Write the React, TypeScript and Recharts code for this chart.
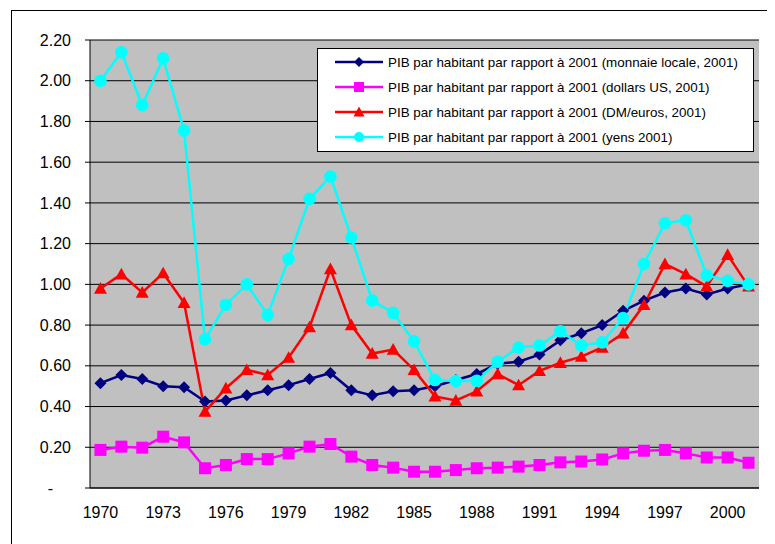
import React from "react";
import { LineChart, Line, XAxis, YAxis, CartesianGrid, Legend } from "recharts";

const FONT = "'Liberation Sans', Arial, sans-serif";

const years = [
  1970, 1971, 1972, 1973, 1974, 1975, 1976, 1977, 1978, 1979, 1980, 1981, 1982, 1983, 1984, 1985,
  1986, 1987, 1988, 1989, 1990, 1991, 1992, 1993, 1994, 1995, 1996, 1997, 1998, 1999, 2000, 2001,
];

const localCurrency = [
  0.515, 0.555, 0.535, 0.5, 0.495, 0.425, 0.43, 0.455, 0.48, 0.505, 0.535, 0.565, 0.48, 0.455, 0.475, 0.48,
  0.5, 0.53, 0.56, 0.61, 0.62, 0.655, 0.725, 0.76, 0.8, 0.87, 0.92, 0.96, 0.98, 0.95, 0.98, 1.0,
];

const usDollars = [
  0.187, 0.203, 0.198, 0.252, 0.224, 0.097, 0.113, 0.142, 0.142, 0.17, 0.203, 0.216, 0.154, 0.113, 0.1, 0.08,
  0.08, 0.088, 0.097, 0.1, 0.105, 0.113, 0.126, 0.13, 0.14, 0.17, 0.183, 0.187, 0.17, 0.15, 0.15, 0.124,
];

const dmEuros = [
  0.98, 1.05, 0.96, 1.055, 0.91, 0.375, 0.49, 0.58, 0.555, 0.64, 0.79, 1.075, 0.8, 0.66, 0.68, 0.58,
  0.45, 0.43, 0.475, 0.56, 0.505, 0.575, 0.615, 0.645, 0.69, 0.76, 0.9, 1.1, 1.05, 0.99, 1.145, 0.99,
];

const yens = [
  2.0, 2.14, 1.88, 2.11, 1.755, 0.73, 0.9, 1.0, 0.85, 1.125, 1.42, 1.53, 1.23, 0.92, 0.86, 0.72,
  0.53, 0.525, 0.527, 0.62, 0.69, 0.7, 0.77, 0.7, 0.715, 0.835, 1.1, 1.3, 1.315, 1.045, 1.017, 1.0,
];

const yTicks = [0, 0.2, 0.4, 0.6, 0.8, 1, 1.2, 1.4, 1.6, 1.8, 2, 2.2];
const yearLabels = [1970, 1973, 1976, 1979, 1982, 1985, 1988, 1991, 1994, 1997, 2000];
// tick marks sit between the years, like Excel's category axis
const yearEdges = [...years.map((y) => y - 0.5), years[years.length - 1] + 0.5];

const series = [
  { key: "local", name: "PIB par habitant par rapport à 2001 (monnaie locale, 2001)", color: "#000080", shape: "diamond" },
  { key: "usd", name: "PIB par habitant par rapport à 2001 (dollars US, 2001)", color: "#FF00FF", shape: "square" },
  { key: "dm", name: "PIB par habitant par rapport à 2001 (DM/euros, 2001)", color: "#FF0000", shape: "triangle" },
  { key: "yen", name: "PIB par habitant par rapport à 2001 (yens 2001)", color: "#00FFFF", shape: "circle" },
];

const data = years.map((year, i) => ({
  year,
  local: localCurrency[i],
  usd: usDollars[i],
  dm: dmEuros[i],
  yen: yens[i],
}));

function Marker({ shape, cx, cy, s, color }: { shape: string; cx: number; cy: number; s: number; color: string }) {
  if (shape === "diamond") {
    return <polygon points={`${cx},${cy - s} ${cx + s},${cy} ${cx},${cy + s} ${cx - s},${cy}`} fill={color} />;
  }
  if (shape === "square") {
    return <rect x={cx - s} y={cy - s} width={2 * s} height={2 * s} fill={color} />;
  }
  if (shape === "triangle") {
    return <polygon points={`${cx},${cy - s} ${cx + s},${cy + s * 0.8} ${cx - s},${cy + s * 0.8}`} fill={color} />;
  }
  return <circle cx={cx} cy={cy} r={s} fill={color} />;
}

const dotSize: Record<string, number> = { diamond: 6, square: 6, triangle: 6.5, circle: 6.3 };

function YTick(props: any) {
  const { x, y, payload } = props;
  const v = payload.value as number;
  return (
    <text x={v === 0 ? x - 18 : x} y={y} dy="0.35em" textAnchor="end" fill="#000" fontSize={16} fontFamily={FONT}>
      {v === 0 ? "-" : v.toFixed(2)}
    </text>
  );
}

function LegendBox() {
  return (
    <svg width={437} height={104} style={{ display: "block" }}>
      <rect x={0.5} y={0.5} width={436} height={103} fill="#fff" stroke="#000" />
      {series.map((s, i) => {
        const cy = 14 + i * 25;
        return (
          <g key={s.key}>
            <line x1={18} x2={66} y1={cy} y2={cy} stroke={s.color} strokeWidth={2.5} />
            <Marker shape={s.shape} cx={42} cy={cy} s={s.shape === "triangle" ? 5.5 : 5} color={s.color} />
            <text x={71} y={cy} dy="0.35em" fontSize={13.4} fontFamily={FONT} fill="#000">
              {s.name}
            </text>
          </g>
        );
      })}
    </svg>
  );
}

export default function App() {
  return (
    <div style={{ position: "relative", width: 767, height: 536, overflow: "hidden", background: "#fff" }}>
      <LineChart width={767} height={536} data={data} margin={{ top: 32, right: 16, bottom: 0, left: 0 }}>
        <CartesianGrid xAxisId="a" vertical={false} stroke="#000" strokeOpacity={1} fill="#C0C0C0" fillOpacity={1} />
        {/* gray plot-area frame on top and right */}
        <XAxis
          xAxisId="top"
          orientation="top"
          type="number"
          domain={[1969.5, 2001.5]}
          height={0}
          tick={false}
          tickLine={false}
          axisLine={{ stroke: "#808080", strokeWidth: 2 }}
        />
        <YAxis
          yAxisId="right"
          orientation="right"
          domain={[0, 2.2]}
          width={0}
          tick={false}
          tickLine={false}
          axisLine={{ stroke: "#808080", strokeWidth: 3 }}
        />
        <XAxis
          xAxisId="a"
          dataKey="year"
          type="number"
          domain={[1969.5, 2001.5]}
          ticks={yearEdges}
          interval={0}
          tick={false}
          tickSize={5}
          height={6}
          axisLine={{ stroke: "#000" }}
          tickLine={{ stroke: "#000" }}
        />
        <XAxis
          xAxisId="b"
          dataKey="year"
          type="number"
          domain={[1969.5, 2001.5]}
          ticks={yearLabels}
          interval={0}
          tickLine={false}
          axisLine={false}
          tickSize={0}
          tickMargin={13}
          height={50}
          tick={{ fill: "#000", fontSize: 16, fontFamily: FONT }}
        />
        <YAxis
          domain={[0, 2.2]}
          ticks={yTicks}
          interval={0}
          width={82}
          tickSize={5}
          tickMargin={14}
          axisLine={{ stroke: "#000" }}
          tickLine={{ stroke: "#000" }}
          tick={<YTick />}
        />
        <Legend
          layout="vertical"
          align="center"
          verticalAlign="middle"
          wrapperStyle={{ left: 309, top: 40, width: 437, height: 104 }}
          content={() => <LegendBox />}
        />
        {series.map((s) => (
          <Line
            key={s.key}
            xAxisId="a"
            dataKey={s.key}
            name={s.name}
            stroke={s.color}
            strokeWidth={2.5}
            type="linear"
            isAnimationActive={false}
            dot={(p: any) => (
              <Marker key={`${s.key}-${p.index}`} shape={s.shape} cx={p.cx} cy={p.cy} s={dotSize[s.shape]} color={s.color} />
            )}
            activeDot={false}
          />
        ))}
      </LineChart>
      <div
        style={{
          position: "absolute",
          left: 3,
          top: 2,
          width: 900,
          height: 700,
          border: "1px solid #000",
          pointerEvents: "none",
        }}
      />
    </div>
  );
}
